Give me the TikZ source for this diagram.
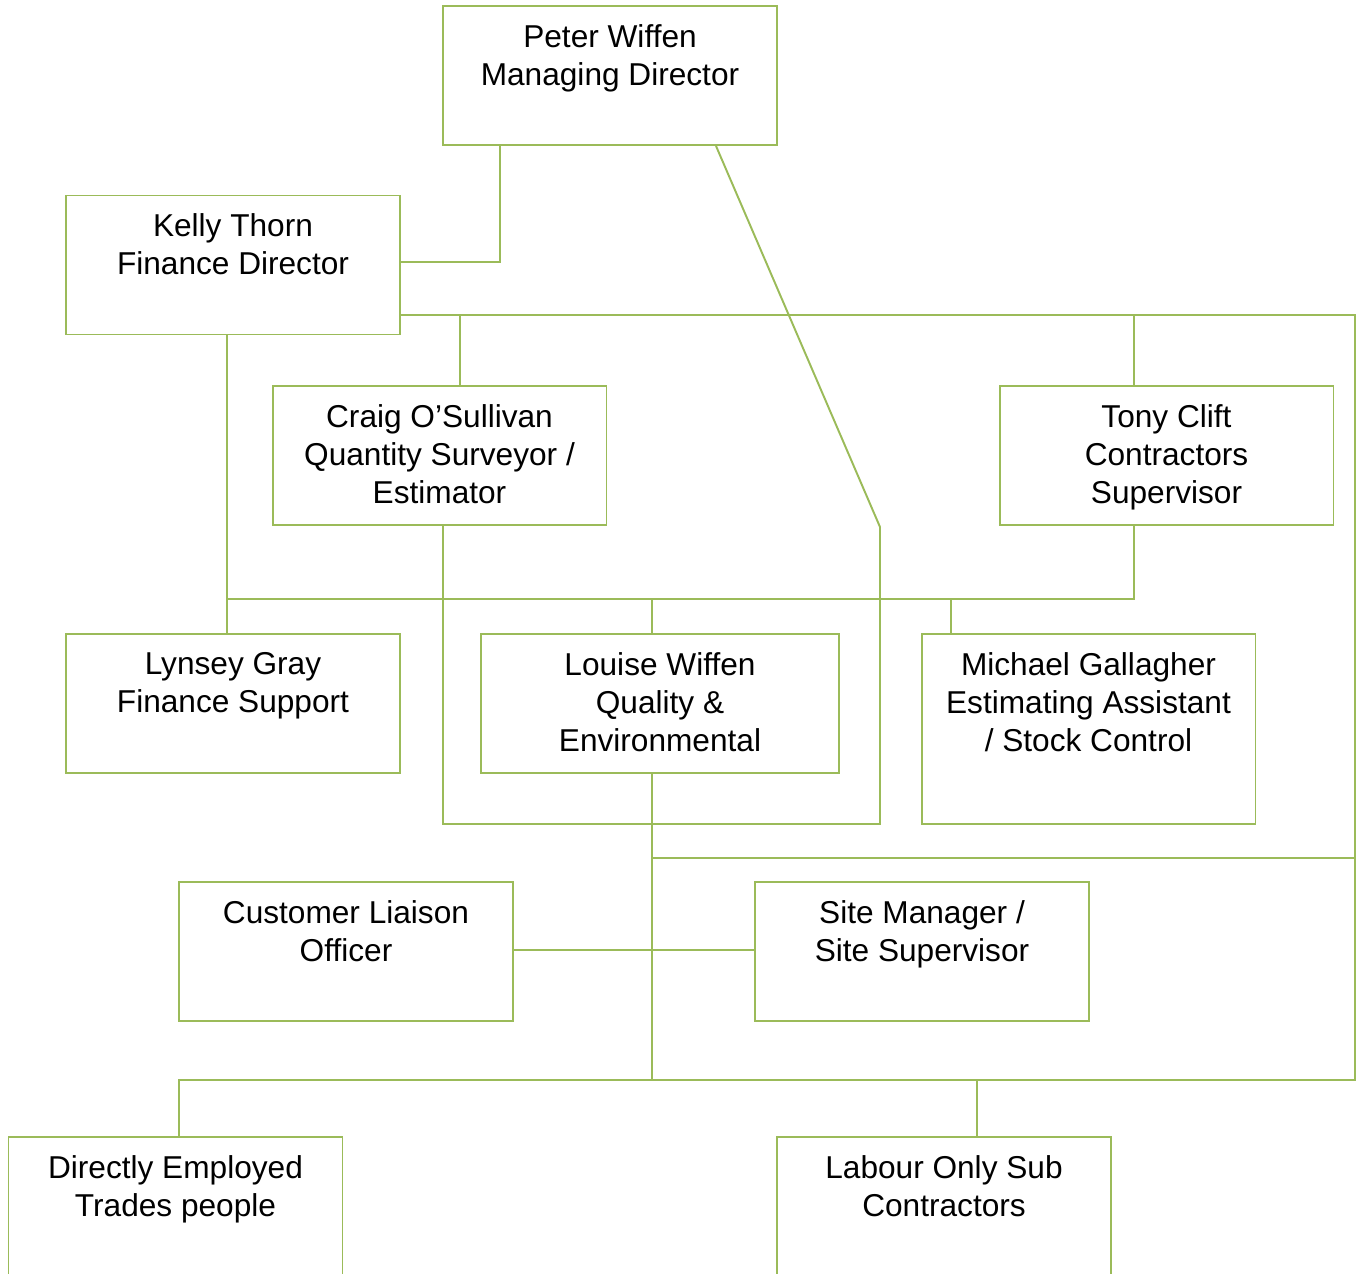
\documentclass[tikz,border=0pt]{standalone}
\usepackage{fontspec}
\setmainfont{Liberation Sans}
\usepackage{xcolor}
\definecolor{orggreen}{HTML}{9BBB59}
\tikzset{
  wire/.style={draw=orggreen,line width=1.1pt},
  txt/.style={anchor=north,yshift=-0.38cm,align=center,inner sep=0pt,
    font=\fontsize{18}{21.7}\selectfont},
  post/.style={rectangle,draw=orggreen,line width=1.1pt,inner sep=0pt,
    minimum width=6.68cm,minimum height=2.78cm,label={[txt]north:#1}}
}

\begin{document}
\begin{tikzpicture}[x=0.02cm,y=-0.02cm]
    \clip (0,0) rectangle (1363,1274);

    \node[post={Peter Wiffen\\Managing Director}] (peter) at (610,75.5) {};
    \node[post={Kelly Thorn\\Finance Director}] (kelly) at (233,265) {};
    \node[post={Craig O’Sullivan\\Quantity Surveyor /\\Estimator}] (craig) at (439.5,455.5) {};
    \node[post={Tony Clift\\Contractors\\Supervisor}] (tony) at (1166.5,455.5) {};
    \node[post={Lynsey Gray\\Finance Support}] (lynsey) at (233,703.5) {};
    \node[post={Louise Wiffen\\Quality \&\\Environmental},minimum width=7.16cm] (louise) at (660,703.5) {};
    \node[post={Michael Gallagher\\Estimating Assistant\\/ Stock Control},minimum height=3.8cm] (michael) at (1088.5,729) {};
    \node[post={Customer Liaison\\Officer}] (liaison) at (346,951.5) {};
    \node[post={Site Manager /\\Site Supervisor}] (site) at (922,951.5) {};
    \node[post={Directly Employed\\Trades people},minimum height=3.4cm] (direct) at (175.5,1222) {};
    \node[post={Labour Only Sub\\Contractors},minimum height=3.4cm] (labour) at (944,1222) {};

    % top links
    \draw[wire] (peter.south -| 500,0) |- (kelly.east |- 0,262);
    \draw[wire] (peter.south -| 716,0) -- (880,527) -- (880,824) -| (craig.south -| 443,0);

    % main bus round the right side
    \draw[wire] (kelly.east |- 0,315) -| (1355,1080) -| (direct.north -| 179,0);
    \draw[wire] (1355,858) -- (652,858);
    \draw[wire] (460,315) -- (craig.north -| 460,0);
    \draw[wire] (1134,315) -- (tony.north -| 1134,0);
    \draw[wire] (977,1080) -- (labour.north -| 977,0);

    % middle bus
    \draw[wire] (kelly.south -| 227,0) -- (lynsey.north -| 227,0);
    \draw[wire] (227,599) -| (tony.south -| 1134,0);
    \draw[wire] (652,599) -- (louise.north -| 652,0);
    \draw[wire] (951,599) -- (michael.north -| 951,0);
    \draw[wire] (louise.south -| 652,0) -- (652,1080);
    \draw[wire] (liaison.east |- 0,950) -- (site.west |- 0,950);
\end{tikzpicture}
\end{document}
